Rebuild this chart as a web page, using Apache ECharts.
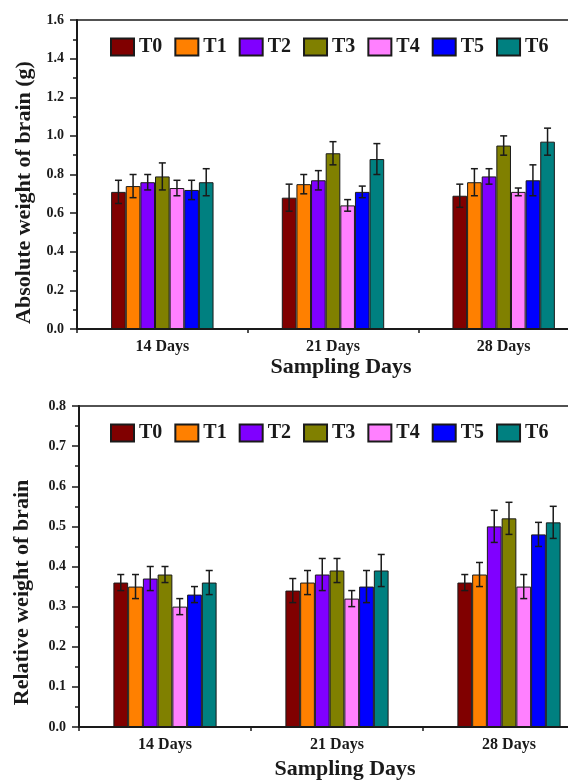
<!DOCTYPE html>
<html><head><meta charset="utf-8">
<script src="https://cdn.jsdelivr.net/npm/echarts@6/dist/echarts.min.js"></script>
<style>html,body{margin:0;padding:0;background:#fff;overflow:hidden;width:568px;height:781px}#c{width:640px;height:781px}</style>
</head><body><div id="c"></div>
<script>
// ---- data ----
const categories = ['14 Days', '21 Days', '28 Days'];
const seriesNames = ['T0', 'T1', 'T2', 'T3', 'T4', 'T5', 'T6'];
const xTitle = 'Sampling Days';
const topYTitle = 'Absolute weight of brain (g)';
const botYTitle = 'Relative weight of brain';
const topYTicks = ['0.0', '0.2', '0.4', '0.6', '0.8', '1.0', '1.2', '1.4', '1.6'];
const botYTicks = ['0.0', '0.1', '0.2', '0.3', '0.4', '0.5', '0.6', '0.7', '0.8'];

// absolute weight (g)
const absT0 = [0.71, 0.68, 0.69];
const absT1 = [0.74, 0.75, 0.76];
const absT2 = [0.76, 0.77, 0.79];
const absT3 = [0.79, 0.91, 0.95];
const absT4 = [0.73, 0.64, 0.71];
const absT5 = [0.72, 0.71, 0.77];
const absT6 = [0.76, 0.88, 0.97];
const absErrT0 = [0.06, 0.07, 0.06];
const absErrT1 = [0.06, 0.05, 0.07];
const absErrT2 = [0.04, 0.05, 0.04];
const absErrT3 = [0.07, 0.06, 0.05];
const absErrT4 = [0.04, 0.03, 0.02];
const absErrT5 = [0.05, 0.03, 0.08];
const absErrT6 = [0.07, 0.08, 0.07];

// relative weight
const relT0 = [0.36, 0.34, 0.36];
const relT1 = [0.35, 0.36, 0.38];
const relT2 = [0.37, 0.38, 0.50];
const relT3 = [0.38, 0.39, 0.52];
const relT4 = [0.30, 0.32, 0.35];
const relT5 = [0.33, 0.35, 0.48];
const relT6 = [0.36, 0.39, 0.51];
const relErrT0 = [0.02, 0.03, 0.02];
const relErrT1 = [0.03, 0.03, 0.03];
const relErrT2 = [0.03, 0.04, 0.04];
const relErrT3 = [0.02, 0.03, 0.04];
const relErrT4 = [0.02, 0.02, 0.03];
const relErrT5 = [0.02, 0.04, 0.03];
const relErrT6 = [0.03, 0.04, 0.04];

// ---- style ----
const colors = ['#800000', '#FF8000', '#8000FF', '#808000', '#FF80FF', '#0000FF', '#008080'];
const FONT = 'Liberation Serif';
const INK = '#1a1a1a';
const CAT_GAP = 0.4;

const absVals = [absT0, absT1, absT2, absT3, absT4, absT5, absT6];
const absErrs = [absErrT0, absErrT1, absErrT2, absErrT3, absErrT4, absErrT5, absErrT6];
const relVals = [relT0, relT1, relT2, relT3, relT4, relT5, relT6];
const relErrs = [relErrT0, relErrT1, relErrT2, relErrT3, relErrT4, relErrT5, relErrT6];

function errData(vals, errs) {
  const out = [];
  vals.forEach((arr, s) => arr.forEach((v, c) => out.push([c, v - errs[s][c], v + errs[s][c], s])));
  return out;
}

function renderErr(params, api) {
  const c = api.value(0), lo = api.value(1), hi = api.value(2), s = api.value(3);
  const center = api.coord([c, 0])[0];
  const band = api.size([1, 0])[0];
  const bw = band * (1 - CAT_GAP) / seriesNames.length;
  const x = center + (s - (seriesNames.length - 1) / 2) * bw;
  const y1 = api.coord([c, lo])[1], y2 = api.coord([c, hi])[1];
  const cap = 3.5;
  const st = { stroke: INK, lineWidth: 1.5 };
  return { type: 'group', children: [
    { type: 'line', shape: { x1: x, y1: y1, x2: x, y2: y2 }, style: st },
    { type: 'line', shape: { x1: x - cap, y1: y1, x2: x + cap, y2: y1 }, style: st },
    { type: 'line', shape: { x1: x - cap, y1: y2, x2: x + cap, y2: y2 }, style: st }
  ]};
}

const txt = { fontFamily: FONT, fontWeight: 'bold', color: INK };

function xAxes(grid, gap) {
  return [
    { type: 'category', gridIndex: grid, data: categories, position: 'bottom',
      axisLine: { lineStyle: { color: INK, width: 2 } },
      axisTick: { alignWithLabel: true, length: 6, lineStyle: { color: INK, width: 2 } },
      axisLabel: Object.assign({ fontSize: 16, margin: 10 }, txt),
      name: xTitle, nameLocation: 'middle', nameGap: gap,
      nameTextStyle: Object.assign({ fontSize: 22, padding: [0, 0, 0, 16] }, txt) },
    { type: 'category', gridIndex: grid, data: categories, position: 'bottom',
      axisLine: { show: false },
      axisTick: { show: true, length: 4, lineStyle: { color: INK, width: 1.5 } },
      axisLabel: { show: false } }
  ];
}

function yAxis(grid, max, interval, ticks, name, gap, pad) {
  return { type: 'value', gridIndex: grid, min: 0, max: max, interval: interval,
    axisLine: { show: true, lineStyle: { color: INK, width: 2 } },
    axisTick: { show: true, length: 7, lineStyle: { color: INK, width: 1.5 } },
    minorTick: { show: true, splitNumber: 2, length: 4, lineStyle: { color: INK, width: 1.5 } },
    splitLine: { show: false },
    axisLabel: Object.assign({ fontSize: 14, margin: 13,
      formatter: v => ticks[Math.round(v / interval)] }, txt),
    name: name, nameLocation: 'middle', nameGap: gap, nameRotate: 90,
    nameTextStyle: Object.assign({ fontSize: 22, padding: pad }, txt) };
}

const series = [];
seriesNames.forEach((n, i) => {
  series.push({ name: n, type: 'bar', xAxisIndex: 0, yAxisIndex: 0, data: absVals[i],
    barGap: '0%', barCategoryGap: (CAT_GAP * 100) + '%',
    itemStyle: { color: colors[i], borderColor: INK, borderWidth: 1 } });
});
seriesNames.forEach((n, i) => {
  series.push({ name: n, type: 'bar', xAxisIndex: 2, yAxisIndex: 1, data: relVals[i],
    barGap: '0%', barCategoryGap: (CAT_GAP * 100) + '%',
    itemStyle: { color: colors[i], borderColor: INK, borderWidth: 1 } });
});
series.push({ type: 'custom', xAxisIndex: 0, yAxisIndex: 0, renderItem: renderErr,
  data: errData(absVals, absErrs), encode: { x: 0, y: [1, 2] }, z: 5, silent: true });
series.push({ type: 'custom', xAxisIndex: 2, yAxisIndex: 1, renderItem: renderErr,
  data: errData(relVals, relErrs), encode: { x: 0, y: [1, 2] }, z: 5, silent: true });

function legend(top) {
  return { data: seriesNames, left: 105, top: top, itemWidth: 23, itemHeight: 17, itemGap: 12,
    icon: 'rect', textStyle: Object.assign({ fontSize: 20 }, txt) };
}

const chart = echarts.init(document.getElementById('c'), null, { renderer: 'canvas' });
chart.setOption({
  animation: false,
  backgroundColor: '#fff',
  legend: [legend(32), legend(418)],
  grid: [
    { left: 77, top: 20, width: 512, height: 309, show: true, borderColor: INK, borderWidth: 1.5, backgroundColor: 'transparent' },
    { left: 79, top: 406, width: 516, height: 325, show: true, borderColor: INK, borderWidth: 1.5, backgroundColor: 'transparent' }
  ],
  xAxis: [].concat(xAxes(0, 27), xAxes(1, 31)),
  yAxis: [
    yAxis(0, 1.6, 0.2, topYTicks, topYTitle, 27, [0, 36, 0, 0]),
    yAxis(1, 0.8, 0.1, botYTicks, botYTitle, 46, [0, 52, 0, 0])
  ],
  series: series
});
</script>
</body></html>
